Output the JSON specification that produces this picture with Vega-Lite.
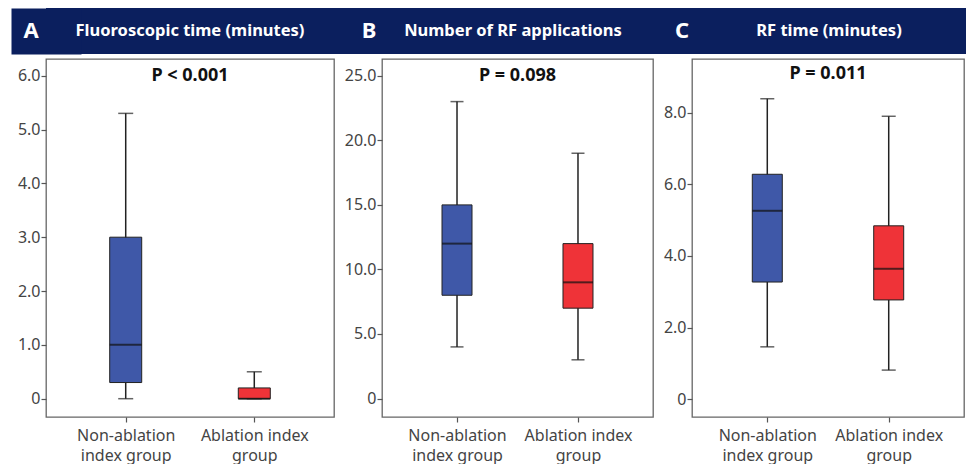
{
  "$schema": "https://vega.github.io/schema/vega-lite/v6.json",
  "padding": {"left": 10, "top": 8, "right": 0, "bottom": 0},
  "background": "white",
  "spacing": 4,
  "datasets": {
    "fluoro": [
      {"group": "Non-ablation index group", "min": 0, "q1": 0.3, "median": 1.0, "q3": 3.0, "max": 5.3},
      {"group": "Ablation index group", "min": 0, "q1": 0, "median": 0, "q3": 0.2, "max": 0.5}
    ],
    "rfapps": [
      {"group": "Non-ablation index group", "min": 4, "q1": 8, "median": 12, "q3": 15, "max": 23},
      {"group": "Ablation index group", "min": 3, "q1": 7, "median": 9, "q3": 12, "max": 19}
    ],
    "rftime": [
      {"group": "Non-ablation index group", "min": 1.46, "q1": 3.27, "median": 5.26, "q3": 6.28, "max": 8.39},
      {"group": "Ablation index group", "min": 0.81, "q1": 2.77, "median": 3.64, "q3": 4.84, "max": 7.9}
    ],
    "header": [
      {"panel": "A", "title": "Fluoroscopic time (minutes)"},
      {"panel": "B", "title": "Number of RF applications"},
      {"panel": "C", "title": "RF time (minutes)"}
    ]
  },
  "vconcat": [
    {
      "width": 921, "height": 46,
      "view": {"fill": "#0B1F5E", "stroke": null},
      "data": {"name": "header"},
      "encoding": {
        "y": {"datum": 0, "type": "quantitative",
              "scale": {"domain": [-1, 1]},
              "axis": {"title": null, "labels": false, "ticks": false, "grid": false, "domainColor": "#0B1F5E", "domainWidth": 70, "domainCap": "butt"}}
      },
      "layer": [
        {"transform": [{"filter": "datum.panel == 'A'"}], "mark": {"type": "text", "color": "white", "font": "Noto Sans", "fontSize": 22, "fontWeight": "bold", "dx": -475.5}, "encoding": {"text": {"field": "panel"}}},
        {"transform": [{"filter": "datum.panel == 'A'"}], "mark": {"type": "text", "color": "white", "font": "Noto Sans", "fontSize": 16.5, "fontWeight": "bold", "dx": -316.5}, "encoding": {"text": {"field": "title"}}},
        {"transform": [{"filter": "datum.panel == 'B'"}], "mark": {"type": "text", "color": "white", "font": "Noto Sans", "fontSize": 22, "fontWeight": "bold", "dx": -137.5}, "encoding": {"text": {"field": "panel"}}},
        {"transform": [{"filter": "datum.panel == 'B'"}], "mark": {"type": "text", "color": "white", "font": "Noto Sans", "fontSize": 16.5, "fontWeight": "bold", "dx": 6.5}, "encoding": {"text": {"field": "title"}}},
        {"transform": [{"filter": "datum.panel == 'C'"}], "mark": {"type": "text", "color": "white", "font": "Noto Sans", "fontSize": 22, "fontWeight": "bold", "dx": 175.5}, "encoding": {"text": {"field": "panel"}}},
        {"transform": [{"filter": "datum.panel == 'C'"}], "mark": {"type": "text", "color": "white", "font": "Noto Sans", "fontSize": 16.5, "fontWeight": "bold", "dx": 322.5}, "encoding": {"text": {"field": "title"}}}
      ]
    },
    {
      "spacing": 0,
      "hconcat": [
        {
          "width": 288, "height": 358,
          "layer": [
            {
              "data": {"name": "fluoro"},
              "encoding": {
                "x": {"field": "group", "type": "nominal", "sort": ["Non-ablation index group", "Ablation index group"],
                      "scale": {"type": "point", "padding": 0.62},
                      "axis": {"title": null, "labelAngle": 0, "domain": false, "tickSize": 5, "tickColor": "#555", "labelColor": "#444", "labelFont": "Noto Sans", "labelFontSize": 16, "labelPadding": 5, "labelLineHeight": 20,
                               "labelExpr": "datum.value == 'Non-ablation index group' ? ['Non-ablation', 'index group'] : ['Ablation index', 'group']"}}
              },
              "layer": [
                {"mark": {"type": "rule", "color": "#222", "strokeWidth": 1.5},
                 "encoding": {"y": {"field": "min", "type": "quantitative",
                                    "scale": {"domain": [-0.34, 6.31], "nice": false, "zero": false},
                                    "axis": {"title": null, "values": [0, 1, 2, 3, 4, 5, 6], "domain": false, "grid": false, "tickSize": 5, "tickColor": "#555", "labelColor": "#444", "labelFont": "Noto Sans", "labelFontSize": 16, "labelPadding": 1, "minExtent": 35,
                                              "labelExpr": "datum.value == 0 ? '0' : format(datum.value, '.1f')"}},
                              "y2": {"field": "max"}}},
                {"mark": {"type": "tick", "color": "#222", "size": 15, "thickness": 1.5}, "encoding": {"y": {"field": "max", "type": "quantitative"}}},
                {"mark": {"type": "tick", "color": "#222", "size": 15, "thickness": 1.5}, "encoding": {"y": {"field": "min", "type": "quantitative"}}},
                {"mark": {"type": "bar", "width": 32, "stroke": "#222", "strokeWidth": 1},
                 "encoding": {"y": {"field": "q1", "type": "quantitative"}, "y2": {"field": "q3"},
                              "color": {"field": "group", "type": "nominal", "scale": {"domain": ["Non-ablation index group", "Ablation index group"], "range": ["#3F58A8", "#EF3338"]}, "legend": null}}},
                {"mark": {"type": "tick", "color": "#111", "size": 32, "thickness": 2}, "encoding": {"y": {"field": "median", "type": "quantitative"}}}
              ]
            },
            {"data": {"values": [{"label": "P < 0.001"}]},
             "mark": {"type": "text", "font": "Noto Sans", "fontSize": 18, "fontWeight": "bold", "color": "#111"},
             "encoding": {"text": {"field": "label"}, "y": {"datum": 6.0, "type": "quantitative"}}}
          ]
        },
        {
          "width": 271, "height": 358,
          "layer": [
            {
              "data": {"name": "rfapps"},
              "encoding": {
                "x": {"field": "group", "type": "nominal", "sort": ["Non-ablation index group", "Ablation index group"],
                      "scale": {"type": "point", "padding": 0.62},
                      "axis": {"title": null, "labelAngle": 0, "domain": false, "tickSize": 5, "tickColor": "#555", "labelColor": "#444", "labelFont": "Noto Sans", "labelFontSize": 16, "labelPadding": 5, "labelLineHeight": 20,
                               "labelExpr": "datum.value == 'Non-ablation index group' ? ['Non-ablation', 'index group'] : ['Ablation index', 'group']"}}
              },
              "layer": [
                {"mark": {"type": "rule", "color": "#222", "strokeWidth": 1.5},
                 "encoding": {"y": {"field": "min", "type": "quantitative",
                                    "scale": {"domain": [-1.43, 26.3], "nice": false, "zero": false},
                                    "axis": {"title": null, "values": [0, 5, 10, 15, 20, 25], "domain": false, "grid": false, "tickSize": 5, "tickColor": "#555", "labelColor": "#444", "labelFont": "Noto Sans", "labelFontSize": 16, "labelPadding": 1, "minExtent": 46,
                                              "labelExpr": "datum.value == 0 ? '0' : format(datum.value, '.1f')"}},
                              "y2": {"field": "max"}}},
                {"mark": {"type": "tick", "color": "#222", "size": 13, "thickness": 1.5}, "encoding": {"y": {"field": "max", "type": "quantitative"}}},
                {"mark": {"type": "tick", "color": "#222", "size": 13, "thickness": 1.5}, "encoding": {"y": {"field": "min", "type": "quantitative"}}},
                {"mark": {"type": "bar", "width": 30, "stroke": "#222", "strokeWidth": 1},
                 "encoding": {"y": {"field": "q1", "type": "quantitative"}, "y2": {"field": "q3"},
                              "color": {"field": "group", "type": "nominal", "scale": {"domain": ["Non-ablation index group", "Ablation index group"], "range": ["#3F58A8", "#EF3338"]}, "legend": null}}},
                {"mark": {"type": "tick", "color": "#111", "size": 30, "thickness": 2}, "encoding": {"y": {"field": "median", "type": "quantitative"}}}
              ]
            },
            {"data": {"values": [{"label": "P = 0.098"}]},
             "mark": {"type": "text", "font": "Noto Sans", "fontSize": 18, "fontWeight": "bold", "color": "#111"},
             "encoding": {"text": {"field": "label"}, "y": {"datum": 25.0, "type": "quantitative"}}}
          ]
        },
        {
          "width": 272, "height": 358,
          "layer": [
            {
              "data": {"name": "rftime"},
              "encoding": {
                "x": {"field": "group", "type": "nominal", "sort": ["Non-ablation index group", "Ablation index group"],
                      "scale": {"type": "point", "padding": 0.62},
                      "axis": {"title": null, "labelAngle": 0, "domain": false, "tickSize": 5, "tickColor": "#555", "labelColor": "#444", "labelFont": "Noto Sans", "labelFontSize": 16, "labelPadding": 5, "labelLineHeight": 20,
                               "labelExpr": "datum.value == 'Non-ablation index group' ? ['Non-ablation', 'index group'] : ['Ablation index', 'group']"}}
              },
              "layer": [
                {"mark": {"type": "rule", "color": "#222", "strokeWidth": 1.5},
                 "encoding": {"y": {"field": "min", "type": "quantitative",
                                    "scale": {"domain": [-0.5, 9.5], "nice": false, "zero": false},
                                    "axis": {"title": null, "values": [0, 2, 4, 6, 8], "domain": false, "grid": false, "tickSize": 5, "tickColor": "#555", "labelColor": "#444", "labelFont": "Noto Sans", "labelFontSize": 16, "labelPadding": 1, "minExtent": 37,
                                              "labelExpr": "datum.value == 0 ? '0' : format(datum.value, '.1f')"}},
                              "y2": {"field": "max"}}},
                {"mark": {"type": "tick", "color": "#222", "size": 14, "thickness": 1.5}, "encoding": {"y": {"field": "max", "type": "quantitative"}}},
                {"mark": {"type": "tick", "color": "#222", "size": 14, "thickness": 1.5}, "encoding": {"y": {"field": "min", "type": "quantitative"}}},
                {"mark": {"type": "bar", "width": 30, "stroke": "#222", "strokeWidth": 1},
                 "encoding": {"y": {"field": "q1", "type": "quantitative"}, "y2": {"field": "q3"},
                              "color": {"field": "group", "type": "nominal", "scale": {"domain": ["Non-ablation index group", "Ablation index group"], "range": ["#3F58A8", "#EF3338"]}, "legend": null}}},
                {"mark": {"type": "tick", "color": "#111", "size": 30, "thickness": 2}, "encoding": {"y": {"field": "median", "type": "quantitative"}}}
              ]
            },
            {"data": {"values": [{"label": "P = 0.011"}]},
             "mark": {"type": "text", "font": "Noto Sans", "fontSize": 18, "fontWeight": "bold", "color": "#111"},
             "encoding": {"text": {"field": "label"}, "y": {"datum": 9.07, "type": "quantitative"}}}
          ]
        }
      ]
    }
  ],
  "config": {
    "view": {"stroke": "#666", "strokeWidth": 1.3},
    "axis": {"tickWidth": 1.2}
  }
}
